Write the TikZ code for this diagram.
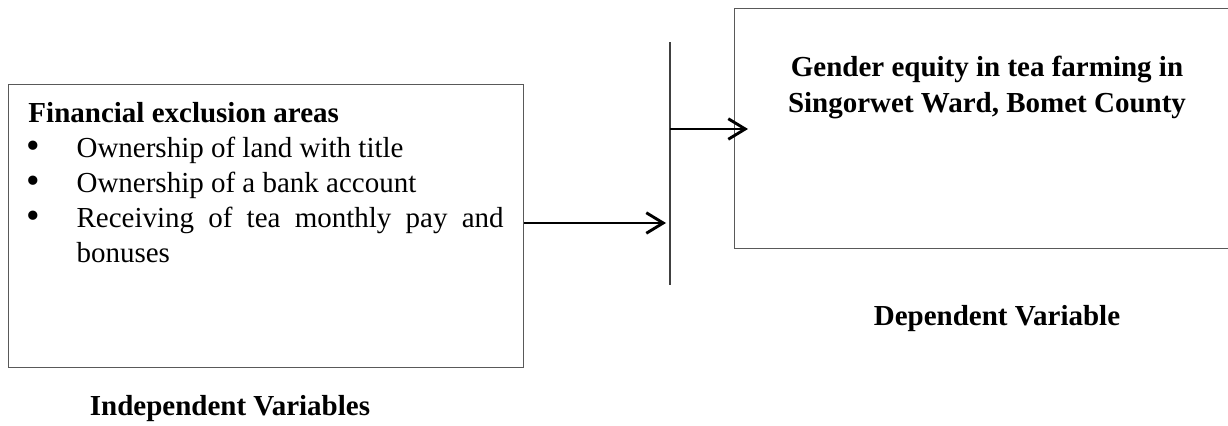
\documentclass[tikz,border=0pt]{standalone}
\usepackage{fontspec}
\setmainfont{Liberation Serif}
\usetikzlibrary{arrows.meta}

\tikzset{
  box/.style={draw=black!65, line width=0.55pt, inner sep=0pt, anchor=north west},
  bar/.style={draw=black!75, line width=0.55pt},
  flow/.style={line width=1.2pt, -{Straight Barb[length=7pt,width=8.5pt]}},
  caption/.style={font=\bfseries, anchor=base, inner sep=0pt},
}
\newcommand{\dotmark}{\raisebox{-0.6pt}{\fontsize{16pt}{14.5pt}\selectfont\textbullet}}

\begin{document}
\begin{tikzpicture}[x=0.4138pt, y=-0.4138pt]
            \fontsize{12pt}{14.5pt}\selectfont
            \useasboundingbox (0,0) rectangle (1228,425);
            % boxes
            \node[box, minimum width=213.1pt, minimum height=117.1pt] (lbox) at (8,84) {};
            \node[box, minimum width=209.4pt, minimum height=99.3pt] (rbox) at (734,8) {};
            % texts
            \node[anchor=base west, text width=196.6pt, align=justify, inner sep=0pt] (areas) at (28,122) {\tolerance=9999
              \textbf{Financial exclusion areas}
              \begin{list}{\dotmark}{\setlength{\leftmargin}{19.9pt}\setlength{\labelsep}{15.3pt}%
                \setlength{\itemsep}{0pt}\setlength{\parsep}{0pt}\setlength{\topsep}{0pt}\setlength{\partopsep}{0pt}}
                \item Ownership of land with title
                \item Ownership of a bank account
                \item Receiving of tea monthly pay and bonuses
              \end{list}};
            \node[caption, align=center] (goal) at (987,112) {Gender equity in tea farming in\\Singorwet Ward, Bomet County};
            \node[caption] (dep) at (997,325) {Dependent Variable};
            \node[caption] (indep) at (230,415) {Independent Variables};
            % connectors
            \coordinate (bartop) at (670,42);
            \coordinate (barbot) at (670,285);
            \coordinate (in1) at (666,223);
            \coordinate (out1) at (670,129);
            \coordinate (tip2) at (748,129);
            \draw[bar] (bartop) -- (barbot);
            \draw[flow] (lbox.east |- in1) -- (in1);
            \draw[flow] (out1) -- (tip2);
        \end{tikzpicture}
\end{document}
